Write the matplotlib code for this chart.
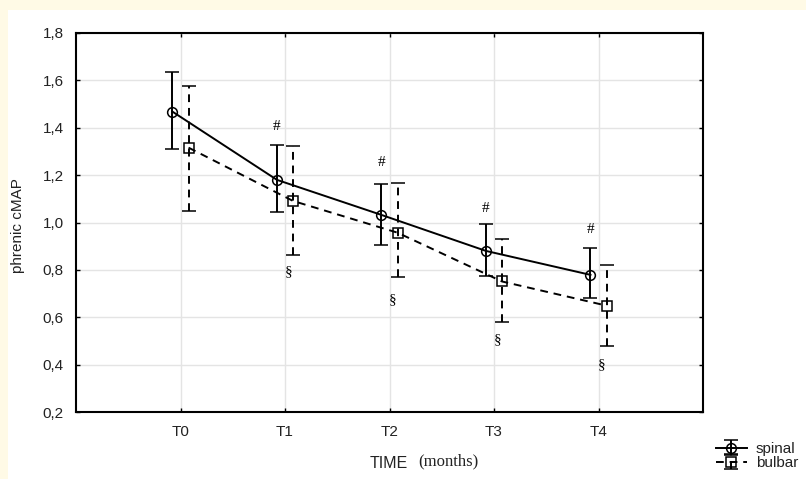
import matplotlib.pyplot as plt
from matplotlib.patches import Rectangle
import numpy as np

# data
times = ['T0', 'T1', 'T2', 'T3', 'T4']
spinal_mean = [1.468, 1.180, 1.032, 0.880, 0.779]
spinal_hi = [1.637, 1.327, 1.163, 0.993, 0.893]
spinal_lo = [1.309, 1.043, 0.906, 0.775, 0.681]
bulbar_mean = [1.316, 1.091, 0.957, 0.751, 0.649]
bulbar_hi = [1.576, 1.323, 1.168, 0.930, 0.821]
bulbar_lo = [1.050, 0.863, 0.772, 0.579, 0.479]

# significance marks (#: above spinal, §: below bulbar), T1..T4
hash_y = [1.405, 1.253, 1.057, 0.969]
sect_y = [0.792, 0.673, 0.505, 0.399]

x = np.arange(len(times))
off = 0.077
xs = x - off
xb = x + off

fig = plt.figure(figsize=(8.06, 4.79), dpi=100)
fig.patch.set_facecolor('#fffae6')
fig.patches.append(Rectangle((8 / 806, 0), 1, 1 - 10 / 479, transform=fig.transFigure,
                             facecolor='white', edgecolor='none', zorder=-10))

ax = fig.add_axes([76 / 806, 1 - 412 / 479, (703 - 76) / 806, (412 - 33) / 479])
ax.set_facecolor('white')

sp = ax.errorbar(xs, spinal_mean,
                 yerr=[np.subtract(spinal_mean, spinal_lo), np.subtract(spinal_hi, spinal_mean)],
                 color='black', lw=1.4, elinewidth=1.4, capsize=5, capthick=1.4,
                 marker='o', ms=7, mfc='none', mec='black', mew=1.1, label='spinal', zorder=3)
bu = ax.errorbar(xb, bulbar_mean,
                 yerr=[np.subtract(bulbar_mean, bulbar_lo), np.subtract(bulbar_hi, bulbar_mean)],
                 color='black', lw=1.4, elinewidth=1.4, capsize=5, capthick=1.4, ls='--',
                 marker='s', ms=7, mfc='none', mec='black', mew=1.1, label='bulbar', zorder=3)
bu[2][0].set_linestyle((0, (4, 3)))
bu[0].set_dashes((4, 3))

for i in range(1, 5):
    ax.text(xs[i], hash_y[i - 1], '#', ha='center', va='center',
            family='Liberation Serif', fontsize=11)
    ax.text(x[i] + 0.03, sect_y[i - 1], '§', ha='center', va='center',
            family='Liberation Serif', fontsize=11)

ax.set_xlim(-1, 5)
ax.set_ylim(0.2, 1.8)
ax.set_xticks(x)
ax.set_xticklabels(times)
yt = np.arange(0.2, 1.81, 0.2)
ax.set_yticks(yt)
ax.set_yticklabels([f'{v:.1f}'.replace('.', ',') for v in yt])
ax.grid(True, color='#e4e4e4', lw=1.0)
ax.set_axisbelow(True)
ax.tick_params(direction='in', length=3, width=1, top=True, right=True,
               labelsize=11, labelcolor='#222222')
ax.tick_params(axis='x', pad=9)
ax.tick_params(axis='y', pad=9)
for lab in ax.get_xticklabels() + ax.get_yticklabels():
    lab.set_family('Liberation Sans')
for s in ax.spines.values():
    s.set_linewidth(1.5)

fig.text(18 / 806, 1 - 226 / 479, 'phrenic cMAP', rotation=90, ha='center', va='center',
         family='Liberation Sans', fontsize=11, color='#222222')
fig.text(408 / 806, 1 - 464 / 479, 'TIME', ha='right', va='center',
         family='Liberation Sans', fontsize=11.5, color='#222222')
fig.text(418 / 806, 1 - 461 / 479, '(months)', ha='left', va='center',
         family='Liberation Serif', fontsize=12, color='#222222')

leg = fig.legend(handles=[sp, bu], loc='center left', bbox_to_anchor=(716 / 806, 1 - 456 / 479),
                 frameon=False, handlelength=2.0, handletextpad=0.6,
                 labelspacing=-0.02, borderpad=0, borderaxespad=0,
                 prop={'family': 'Liberation Sans', 'size': 11})
for t in leg.get_texts():
    t.set_color('#222222')

fig.savefig('out.png', dpi=100, facecolor=fig.get_facecolor())
